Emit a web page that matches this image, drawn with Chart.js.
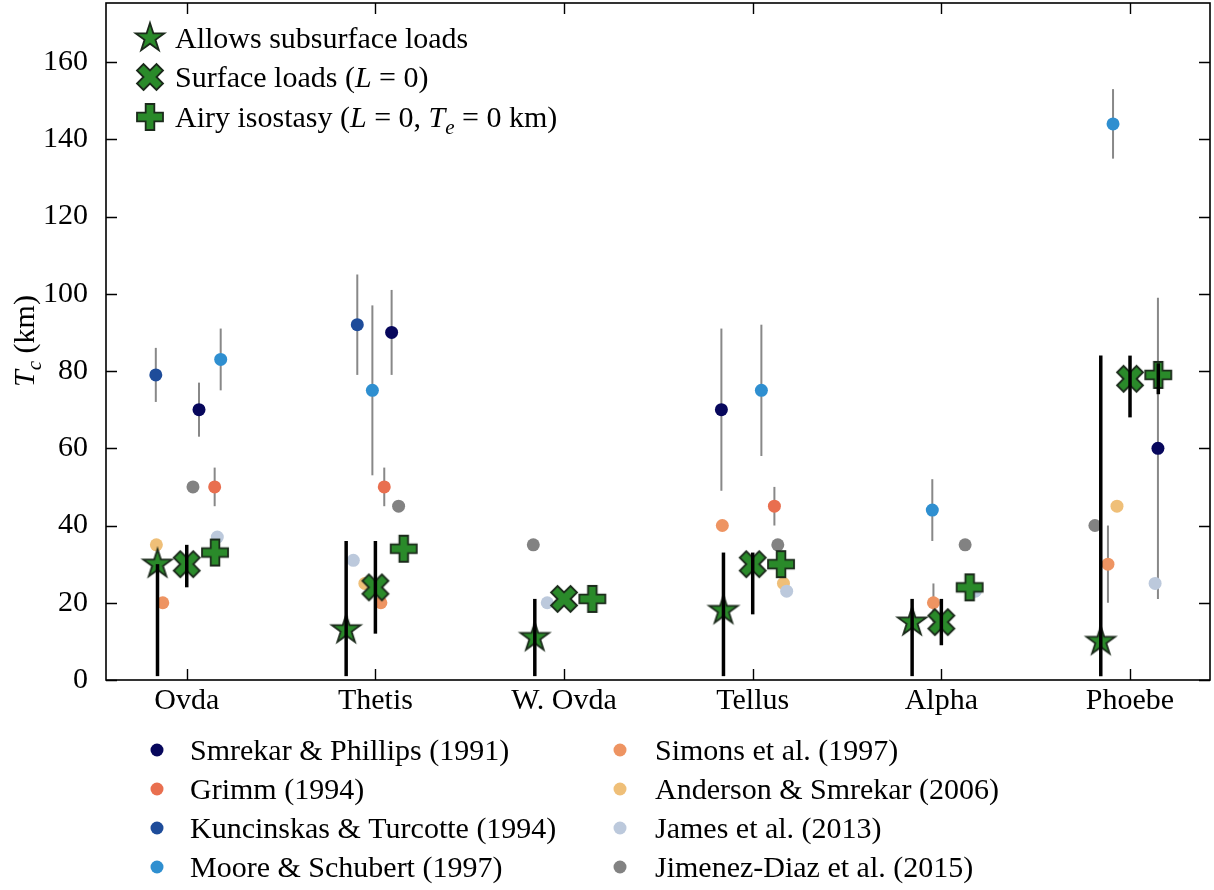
<!DOCTYPE html>
<html>
<head>
<meta charset="utf-8">
<script src="https://cdn.jsdelivr.net/npm/chart.js@4.4.1/dist/chart.umd.min.js"></script>
<style>
html, body { margin: 0; padding: 0; background: #fff; }
#wrap { width: 1214px; height: 890px; }
</style>
</head>
<body>
<div id="wrap"><canvas id="tcChart" width="1214" height="890"></canvas></div>
<script>
const regions = ['Ovda', 'Thetis', 'W. Ovda', 'Tellus', 'Alpha', 'Phoebe'];
const yTicks = [0, 20, 40, 60, 80, 100, 120, 140, 160];

// model estimates (green markers), km
const subsurfaceTc   = [30, 13, 11, 18, 15, 10];
const subsurfaceLow  = [1, 1, 1, 1, 1, 1];
const subsurfaceHigh = [30, 36, 21, 33, 21, 84];
const surfaceTc   = [30, 24, 21, 30, 15, 78];
const surfaceLow  = [24, 12, null, 17, 9, 68];
const surfaceHigh = [35, 36, null, 33, 21, 84];
const airyTc   = [33, 34, 21, 30, 24, 79];
const airyLow  = [null, null, null, null, null, 74];
const airyHigh = [null, null, null, null, null, 82];
const modelOffsets = [-0.155, 0, 0.15];

// literature estimates
const studies = [
    'Smrekar & Phillips (1991)',
    'Grimm (1994)',
    'Kuncinskas & Turcotte (1994)',
    'Moore & Schubert (1997)',
    'Simons et al. (1997)',
    'Anderson & Smrekar (2006)',
    'James et al. (2013)',
    'Jimenez-Diaz et al. (2015)',
];
const studyTc = [
    [70, 90, null, 70, null, 60],
    [50, 50, null, 45, null, null],
    [79, 92, null, null, null, null],
    [83, 75, null, 75, 44, 144],
    [20, 20, null, 40, 20, 30],
    [35, 25, null, 25, null, 45],
    [37, 31, 20, 23, 23, 25],
    [50, 45, 35, 35, 35, 40],
];
const studyLow = [
    [63, 79, null, 49, null, 21],
    [45, 45, null, 40, null, null],
    [72, 79, null, null, null, null],
    [75, 53, null, 58, 36, 135],
    [null, null, null, null, 15, 20],
    [null, null, null, null, null, null],
    [null, null, null, null, null, null],
    [null, null, null, null, null, null],
];
const studyHigh = [
    [77, 101, null, 91, null, 99],
    [55, 55, null, 50, null, null],
    [86, 105, null, null, null, null],
    [91, 97, null, 92, 52, 153],
    [null, null, null, null, 25, 40],
    [null, null, null, null, null, null],
    [null, null, null, null, null, null],
    [null, null, null, null, null, null],
];
const studyJitter = [
    [0.065, 0.086, null, -0.166, null, 0.148],
    [0.148, 0.047, null, 0.115, null, null],
    [-0.164, -0.096, null, null, null, null],
    [0.18, -0.016, null, 0.046, -0.048, -0.09],
    [-0.127, 0.029, null, -0.161, -0.042, -0.117],
    [-0.161, -0.056, null, 0.163, null, -0.069],
    [0.162, -0.117, -0.089, 0.18, 0.18, 0.133],
    [0.033, 0.123, -0.163, 0.133, 0.126, -0.186],
];
const studyColors = ['#07075c', '#e96f4f', '#1e4c9a', '#2f8fd0', '#ee9462', '#efbf78', '#bcc9dc', '#828282'];

const FONT = "'Liberation Serif', 'Times New Roman', serif";
const FS = 30;
const GREEN = '#2a8a2a';
const EDGE = '#1b2a1b';

// matplotlib-like filled markers
const X_PATH = [[0.25, 0], [0.5, 0.25], [0.75, 0], [1, 0.25], [0.75, 0.5], [1, 0.75],
    [0.75, 1], [0.5, 0.75], [0.25, 1], [0, 0.75], [0.25, 0.5], [0, 0.25]];
const P_PATH = [[1/3, 0], [2/3, 0], [2/3, 1/3], [1, 1/3], [1, 2/3], [2/3, 2/3],
    [2/3, 1], [1/3, 1], [1/3, 2/3], [0, 2/3], [0, 1/3], [1/3, 1/3]];

function makeMarker(kind, size) {
    const pad = 3;
    const c = document.createElement('canvas');
    c.width = c.height = Math.ceil(size + pad * 2);
    const g = c.getContext('2d');
    g.translate(c.width / 2, c.height / 2);
    g.beginPath();
    if (kind === 'star') {
        const R = size / 2, r = R * 0.381966;
        for (let k = 0; k < 10; k++) {
            const a = -Math.PI / 2 + k * Math.PI / 5;
            const rr = k % 2 ? r : R;
            g.lineTo(rr * Math.cos(a), rr * Math.sin(a));
        }
    } else {
        const pts = kind === 'cross' ? X_PATH : P_PATH;
        pts.forEach(([u, v]) => g.lineTo((u - 0.5) * size, (0.5 - v) * size));
    }
    g.closePath();
    g.fillStyle = GREEN;
    g.fill();
    g.lineWidth = 1.8;
    g.strokeStyle = EDGE;
    g.lineJoin = 'miter';
    g.stroke();
    return c;
}

const starImg = makeMarker('star', 30);
const crossImg = makeMarker('cross', 26);
const plusImg = makeMarker('plus', 26);

function modelPoints(vals, lows, highs, off) {
    return vals.map((v, i) => ({ x: i + off, y: v, low: lows[i], high: highs[i] }));
}

const modelDatasets = [
    { label: 'Allows subsurface loads', img: starImg, data: modelPoints(subsurfaceTc, subsurfaceLow, subsurfaceHigh, modelOffsets[0]) },
    { label: 'Surface loads', img: crossImg, data: modelPoints(surfaceTc, surfaceLow, surfaceHigh, modelOffsets[1]) },
    { label: 'Airy isostasy', img: plusImg, data: modelPoints(airyTc, airyLow, airyHigh, modelOffsets[2]) },
].map((d, k) => ({
    label: d.label,
    data: d.data,
    pointStyle: d.img,
    pointRadius: 13,
    showLine: false,
    order: k,
    errOnTop: true,
    errColor: '#000000',
    errWidth: 3.5,
}));

const studyDatasets = studies.map((name, s) => ({
    label: name,
    data: regions.map((r, i) => studyTc[s][i] == null ? null
        : { x: i + studyJitter[s][i], y: studyTc[s][i], low: studyLow[s][i], high: studyHigh[s][i] })
        .filter(p => p !== null),
    backgroundColor: studyColors[s],
    borderWidth: 0,
    pointRadius: 6.5,
    showLine: false,
    order: 30 - s,
    errOnTop: false,
    errColor: '#888888',
    errWidth: 2,
}));

function drawErr(chart, index) {
    const ds = chart.data.datasets[index];
    const { ctx, chartArea, scales: { x, y } } = chart;
    ctx.save();
    ctx.beginPath();
    ctx.rect(chartArea.left, chartArea.top, chartArea.width, chartArea.height);
    ctx.clip();
    ctx.strokeStyle = ds.errColor;
    ctx.lineWidth = ds.errWidth;
    ds.data.forEach(p => {
        if (p.low == null || p.high == null) return;
        const px = x.getPixelForValue(p.x);
        ctx.beginPath();
        ctx.moveTo(px, y.getPixelForValue(p.low));
        ctx.lineTo(px, y.getPixelForValue(p.high));
        ctx.stroke();
    });
    ctx.restore();
}

const errorBars = {
    id: 'errorBars',
    beforeDatasetDraw(chart, args) {
        if (!chart.data.datasets[args.index].errOnTop) drawErr(chart, args.index);
    },
    afterDatasetDraw(chart, args) {
        if (chart.data.datasets[args.index].errOnTop) drawErr(chart, args.index);
    },
};

// frame with inward ticks on all four sides
const frameTicks = {
    id: 'frameTicks',
    afterDatasetsDraw(chart) {
        const { ctx, chartArea: a, scales: { x, y } } = chart;
        const len = 11;
        ctx.save();
        ctx.strokeStyle = '#000';
        ctx.lineWidth = 1.4;
        x.ticks.forEach(t => {
            const px = Math.round(x.getPixelForValue(t.value)) + 0.5;
            ctx.beginPath();
            ctx.moveTo(px, a.bottom); ctx.lineTo(px, a.bottom - len);
            ctx.moveTo(px, a.top); ctx.lineTo(px, a.top + len);
            ctx.stroke();
        });
        y.ticks.forEach(t => {
            const py = Math.round(y.getPixelForValue(t.value)) + 0.5;
            ctx.beginPath();
            ctx.moveTo(a.left, py); ctx.lineTo(a.left + len, py);
            ctx.moveTo(a.right, py); ctx.lineTo(a.right - len, py);
            ctx.stroke();
        });
        ctx.lineWidth = 1.6;
        ctx.strokeRect(a.left, a.top, a.right - a.left, a.bottom - a.top);
        ctx.restore();
    },
};

// text made of plain / italic / subscript pieces
function richWidth(ctx, segs, size) {
    let w = 0;
    segs.forEach(([t, it, sub]) => {
        const s = sub ? size * 0.7 : size;
        ctx.font = (it ? 'italic ' : '') + s + 'px ' + FONT;
        w += ctx.measureText(t).width;
    });
    return w;
}
function drawRich(ctx, segs, x, y, size) {
    ctx.textBaseline = 'alphabetic';
    ctx.textAlign = 'left';
    segs.forEach(([t, it, sub]) => {
        const s = sub ? size * 0.7 : size;
        ctx.font = (it ? 'italic ' : '') + s + 'px ' + FONT;
        ctx.fillText(t, x, y + (sub ? size * 0.22 : 0));
        x += ctx.measureText(t).width;
    });
}

const topLegendText = [
    [['Allows subsurface loads']],
    [['Surface loads ('], ['L', true], [' = 0)']],
    [['Airy isostasy ('], ['L', true], [' = 0, '], ['T', true], ['e', true, true], [' = 0 km)']],
];

const legends = {
    id: 'legends',
    afterDraw(chart) {
        const ctx = chart.ctx;
        ctx.save();
        ctx.fillStyle = '#000';
        // marker legend inside the axes
        const topRows = [38, 77, 117];
        modelDatasets.forEach((ds, k) => {
            const img = ds.pointStyle;
            ctx.drawImage(img, 150 - img.width / 2, topRows[k] - img.height / 2);
            ctx.fillStyle = '#000';
            drawRich(ctx, topLegendText[k], 175, topRows[k] + 10, FS);
        });
        // study legend below the axes, two columns filled top to bottom
        const rows = [750, 789, 828, 867];
        const cols = [[157, 190], [620, 655]];
        studies.forEach((name, s) => {
            const [mx, tx] = cols[Math.floor(s / 4)];
            const ry = rows[s % 4];
            ctx.beginPath();
            ctx.arc(mx, ry, 6.5, 0, Math.PI * 2);
            ctx.fillStyle = studyColors[s];
            ctx.fill();
            ctx.fillStyle = '#000';
            drawRich(ctx, [[name]], tx, ry + 10, FS);
        });
        // y axis title
        const title = [['T', true], ['c', true, true], [' (km)']];
        const w = richWidth(ctx, title, FS);
        ctx.translate(34, 341);
        ctx.rotate(-Math.PI / 2);
        drawRich(ctx, title, -w / 2, 0, FS);
        ctx.restore();
    },
};

function noPadding(scale) {
    scale.paddingLeft = 0;
    scale.paddingRight = 0;
    scale.paddingTop = 0;
    scale.paddingBottom = 0;
}

const ctxEl = document.getElementById('tcChart');
const tcChart = new Chart(ctxEl, {
    type: 'scatter',
    data: { datasets: [...modelDatasets, ...studyDatasets] },
    options: {
        responsive: false,
        maintainAspectRatio: false,
        animation: false,
        layout: { autoPadding: false, padding: { top: 3, right: 4, left: 0, bottom: 0 } },
        plugins: {
            legend: { display: false },
            tooltip: { enabled: false },
        },
        scales: {
            x: {
                type: 'linear',
                min: -0.428,
                max: 5.424,
                grid: { display: false },
                border: { display: false },
                afterBuildTicks: (scale) => { scale.ticks = regions.map((r, i) => ({ value: i })); },
                afterFit: (scale) => { scale.height = 210; noPadding(scale); },
                ticks: {
                    autoSkip: false,
                    maxRotation: 0,
                    padding: -5,
                    color: '#000',
                    font: { family: FONT, size: FS },
                    callback: (v) => regions[v],
                },
            },
            y: {
                min: 0,
                max: 175.3,
                grid: { display: false },
                border: { display: false },
                afterBuildTicks: (scale) => { scale.ticks = yTicks.map(v => ({ value: v })); },
                afterFit: (scale) => { scale.width = 106; noPadding(scale); },
                ticks: {
                    padding: 10,
                    color: '#000',
                    font: { family: FONT, size: FS },
                },
            },
        },
    },
    plugins: [errorBars, frameTicks, legends],
});
</script>
</body>
</html>
